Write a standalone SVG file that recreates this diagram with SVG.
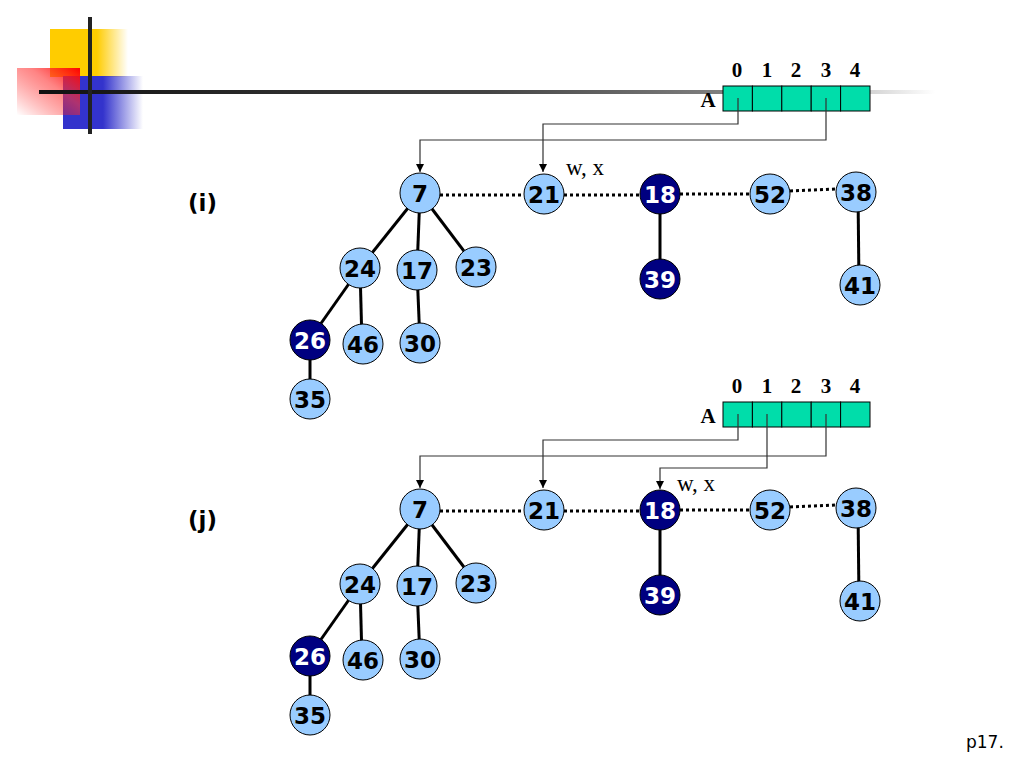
<svg xmlns="http://www.w3.org/2000/svg" width="1024" height="768" viewBox="0 0 1024 768">
<defs>
<linearGradient id="gy" x1="0" y1="0" x2="1" y2="0">
<stop offset="0" stop-color="#FFCC00"/><stop offset="0.6" stop-color="#FFCC00"/><stop offset="1" stop-color="#FFCC00" stop-opacity="0"/>
</linearGradient>
<linearGradient id="gb" x1="0" y1="0" x2="1" y2="0">
<stop offset="0" stop-color="#3333CC"/><stop offset="0.5" stop-color="#3333CC"/><stop offset="1" stop-color="#3333CC" stop-opacity="0"/>
</linearGradient>
<linearGradient id="gr" x1="0" y1="1" x2="1" y2="0">
<stop offset="0" stop-color="#FF0000" stop-opacity="0"/><stop offset="0.6" stop-color="#FF3333" stop-opacity="0.6"/><stop offset="1" stop-color="#FF0000"/>
</linearGradient>
<linearGradient id="gl" x1="39" y1="0" x2="935" y2="0" gradientUnits="userSpaceOnUse">
<stop offset="0" stop-color="#111"/><stop offset="0.5" stop-color="#444"/><stop offset="0.8" stop-color="#888"/><stop offset="1" stop-color="#fff"/>
</linearGradient>
<marker id="ar" viewBox="0 0 10 10" refX="10" refY="5" markerWidth="8" markerHeight="8" markerUnits="userSpaceOnUse" orient="auto">
<path d="M0,0 L10,5 L0,10 z" fill="#000"/>
</marker>
<g id="arr">
<rect x="723" y="0" width="29.4" height="25"/>
<rect x="752.4" y="0" width="29.4" height="25"/>
<rect x="781.8" y="0" width="29.4" height="25"/>
<rect x="811.2" y="0" width="29.4" height="25"/>
<rect x="840.6" y="0" width="29.4" height="25"/>
</g>
</defs>
<style>
.cell{fill:#00DDAA;stroke:#000;stroke-width:1}
.idx{font-family:"Liberation Serif",serif;font-weight:bold;font-size:21px;text-anchor:middle;fill:#000}
.wx{font-family:"Liberation Serif",serif;font-size:23px;fill:#000}
.lab{font-family:"DejaVu Sans",sans-serif;font-weight:bold;font-size:23px;fill:#000}
.conn{fill:none;stroke:#333;stroke-width:1.2}
.edge{stroke:#000;stroke-width:3}
.dot{stroke:#000;stroke-width:3;stroke-dasharray:3 3}
.nl{fill:#99CCFF;stroke:#000;stroke-width:1}
.nd{fill:#000080;stroke:#000;stroke-width:1}
.tl{font-family:"DejaVu Sans",sans-serif;font-weight:bold;font-size:23px;text-anchor:middle;fill:#000}
.td{font-family:"DejaVu Sans",sans-serif;font-weight:bold;font-size:23px;text-anchor:middle;fill:#fff}
</style>
<rect width="1024" height="768" fill="#fff"/>
<g id="decor">
<rect x="50" y="29" width="78" height="48" fill="url(#gy)"/>
<rect x="63" y="76" width="80" height="53" fill="url(#gb)"/>
<rect x="17" y="68" width="63" height="47" fill="url(#gr)"/>
<line x1="39" y1="92" x2="935" y2="92" stroke="url(#gl)" stroke-width="4"/>
<line x1="90" y1="17" x2="90" y2="134" stroke="#222" stroke-width="4"/>
</g>
<text class="lab" x="188" y="211">(i)</text>
<text class="lab" x="188" y="528">(j)</text>
<text x="966" y="748" font-family="DejaVu Sans,sans-serif" font-size="17" fill="#000">p17.</text>

<!-- Part (i) -->
<g id="array-i">
<g class="idx"><text x="737" y="77">0</text><text x="767" y="77">1</text><text x="796" y="77">2</text><text x="826" y="77">3</text><text x="855" y="77">4</text></g>
<text class="idx" x="708" y="107">A</text>
<use href="#arr" class="cell" y="86"/>
</g>
<g id="connectors-i">
<polyline class="conn" points="738,98 738,124 543,124 543,172" marker-end="url(#ar)"/>
<polyline class="conn" points="826,98 826,140 420,140 420,172" marker-end="url(#ar)"/>
<line class="dot" x1="440" y1="195" x2="524" y2="195"/>
<line class="dot" x1="564" y1="195" x2="640" y2="195"/>
<line class="dot" x1="680" y1="194" x2="750" y2="194"/>
<line class="dot" x1="790" y1="191" x2="836" y2="189"/>
<line class="edge" x1="420" y1="193" x2="360" y2="268"/>
<line class="edge" x1="420" y1="193" x2="417" y2="270"/>
<line class="edge" x1="420" y1="193" x2="476" y2="267"/>
<line class="edge" x1="360" y1="268" x2="310" y2="339"/>
<line class="edge" x1="360" y1="268" x2="362" y2="344"/>
<line class="edge" x1="417" y1="270" x2="420" y2="343"/>
<line class="edge" x1="310" y1="339" x2="310" y2="398"/>
<line class="edge" x1="660" y1="193" x2="660" y2="278"/>
<line class="edge" x1="858" y1="192" x2="859" y2="285"/>
</g>
<text class="wx" x="566" y="175">w, x</text>
<g id="n7-i"><circle class="nl" cx="420" cy="193" r="20"/><text class="tl" x="420" y="202">7</text></g>
<g id="n21-i"><circle class="nl" cx="544" cy="194" r="20"/><text class="tl" x="544" y="203">21</text></g>
<g id="n18-i"><circle class="nd" cx="660" cy="194" r="20"/><text class="td" x="660" y="203">18</text></g>
<g id="n52-i"><circle class="nl" cx="770" cy="194" r="20"/><text class="tl" x="770" y="203">52</text></g>
<g id="n38-i"><circle class="nl" cx="856" cy="192" r="20"/><text class="tl" x="856" y="201">38</text></g>
<g id="n39-i"><circle class="nd" cx="660" cy="279" r="20"/><text class="td" x="660" y="288">39</text></g>
<g id="n41-i"><circle class="nl" cx="860" cy="285" r="20"/><text class="tl" x="860" y="294">41</text></g>
<g id="n24-i"><circle class="nl" cx="360" cy="268" r="20"/><text class="tl" x="360" y="277">24</text></g>
<g id="n17-i"><circle class="nl" cx="417" cy="270" r="20"/><text class="tl" x="417" y="279">17</text></g>
<g id="n23-i"><circle class="nl" cx="476" cy="267" r="20"/><text class="tl" x="476" y="276">23</text></g>
<g id="n26-i"><circle class="nd" cx="310" cy="340" r="20"/><text class="td" x="310" y="349">26</text></g>
<g id="n46-i"><circle class="nl" cx="363" cy="344" r="20"/><text class="tl" x="363" y="353">46</text></g>
<g id="n30-i"><circle class="nl" cx="420" cy="343" r="20"/><text class="tl" x="420" y="352">30</text></g>
<g id="n35-i"><circle class="nl" cx="310" cy="399" r="20"/><text class="tl" x="310" y="408">35</text></g>

<!-- Part (j) -->
<g id="array-j">
<g class="idx"><text x="737" y="393">0</text><text x="767" y="393">1</text><text x="796" y="393">2</text><text x="826" y="393">3</text><text x="855" y="393">4</text></g>
<text class="idx" x="708" y="423">A</text>
<use href="#arr" class="cell" y="402"/>
</g>
<g id="connectors-j">
<polyline class="conn" points="738,414 738,440 543,440 543,488" marker-end="url(#ar)"/>
<polyline class="conn" points="826,414 826,456 420,456 420,488" marker-end="url(#ar)"/>
<polyline class="conn" points="767,414 767,468 660,468 660,489" marker-end="url(#ar)"/>
<line class="dot" x1="440" y1="511" x2="524" y2="511"/>
<line class="dot" x1="564" y1="511" x2="640" y2="511"/>
<line class="dot" x1="680" y1="510" x2="750" y2="510"/>
<line class="dot" x1="790" y1="507" x2="836" y2="505"/>
<line class="edge" x1="420" y1="509" x2="360" y2="584"/>
<line class="edge" x1="420" y1="509" x2="417" y2="586"/>
<line class="edge" x1="420" y1="509" x2="476" y2="583"/>
<line class="edge" x1="360" y1="584" x2="310" y2="655"/>
<line class="edge" x1="360" y1="584" x2="362" y2="660"/>
<line class="edge" x1="417" y1="586" x2="420" y2="659"/>
<line class="edge" x1="310" y1="655" x2="310" y2="714"/>
<line class="edge" x1="660" y1="509" x2="660" y2="594"/>
<line class="edge" x1="858" y1="508" x2="859" y2="601"/>
</g>
<text class="wx" x="677" y="491">w, x</text>
<g id="n7-j"><circle class="nl" cx="420" cy="509" r="20"/><text class="tl" x="420" y="518">7</text></g>
<g id="n21-j"><circle class="nl" cx="544" cy="510" r="20"/><text class="tl" x="544" y="519">21</text></g>
<g id="n18-j"><circle class="nd" cx="660" cy="510" r="20"/><text class="td" x="660" y="519">18</text></g>
<g id="n52-j"><circle class="nl" cx="770" cy="510" r="20"/><text class="tl" x="770" y="519">52</text></g>
<g id="n38-j"><circle class="nl" cx="856" cy="508" r="20"/><text class="tl" x="856" y="517">38</text></g>
<g id="n39-j"><circle class="nd" cx="660" cy="595" r="20"/><text class="td" x="660" y="604">39</text></g>
<g id="n41-j"><circle class="nl" cx="860" cy="601" r="20"/><text class="tl" x="860" y="610">41</text></g>
<g id="n24-j"><circle class="nl" cx="360" cy="584" r="20"/><text class="tl" x="360" y="593">24</text></g>
<g id="n17-j"><circle class="nl" cx="417" cy="586" r="20"/><text class="tl" x="417" y="595">17</text></g>
<g id="n23-j"><circle class="nl" cx="476" cy="583" r="20"/><text class="tl" x="476" y="592">23</text></g>
<g id="n26-j"><circle class="nd" cx="310" cy="656" r="20"/><text class="td" x="310" y="665">26</text></g>
<g id="n46-j"><circle class="nl" cx="363" cy="660" r="20"/><text class="tl" x="363" y="669">46</text></g>
<g id="n30-j"><circle class="nl" cx="420" cy="659" r="20"/><text class="tl" x="420" y="668">30</text></g>
<g id="n35-j"><circle class="nl" cx="310" cy="715" r="20"/><text class="tl" x="310" y="724">35</text></g>
</svg>
